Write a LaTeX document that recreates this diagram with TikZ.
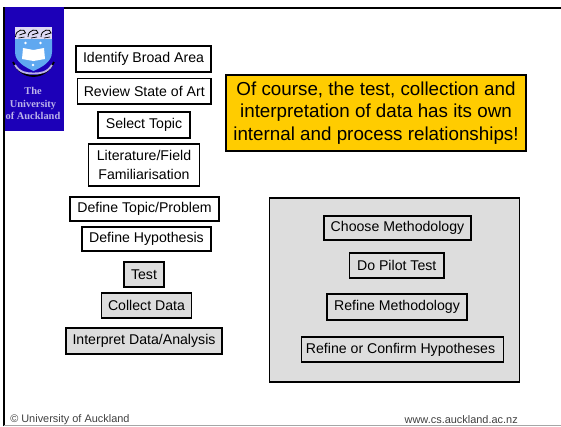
\documentclass[tikz,border=0pt]{standalone}
\usepackage{fontspec}
\setmainfont{Liberation Sans}
\newfontfamily\crestfont{Liberation Serif}
\usepackage{xcolor}
\usepackage{tikz}
\usetikzlibrary{calc}
\definecolor{uniblue}{HTML}{1C00B8}
\definecolor{notegold}{HTML}{FFCC00}
\definecolor{panelgrey}{HTML}{DDDDDD}
\definecolor{shieldblue}{HTML}{5FA8F0}

\tikzset{
	x=0.75pt, y=-0.75pt,
	stepbox/.style={draw, line width=0.8pt, inner sep=0pt, align=center, font=\fontsize{10.6}{14}\selectfont},
	footer/.style={inner sep=0pt, text=black!75, font=\fontsize{8.2}{9}\selectfont},
}

\begin{document}
\begin{tikzpicture}
\useasboundingbox (0,0) rectangle (561,426);

% Frame
\coordinate (topleft) at (4,8);
\coordinate (topright) at (561,8);
\coordinate (bottomleft) at (4,426);
\coordinate (baseleft) at (4,425.5);
\coordinate (baseright) at (561,425.5);
\draw[line width=1.5pt] (bottomleft) -- (topleft) -- (topright);
\draw[black!35, line width=0.6pt] (baseleft) -- (baseright);

% Logo
\fill[uniblue] (5,7) rectangle (64,131);
\fill[white!85!uniblue] (15,27) rectangle (52,45);
\foreach \hx in {20.5,33,46}{
	\draw[black, line width=0.6pt] (\hx-5,37) .. controls (\hx-5,29) and (\hx+5,28) .. (\hx+5,33) .. controls (\hx+3,35) and (\hx,33) .. (\hx-1,35);
	\draw[black, line width=0.5pt] (\hx-2,38) -- (\hx+4,37);
}
\fill[shieldblue] (15,39) -- (52,39) -- (52,52) .. controls (52,62) and (42,67) .. (33.5,71) .. controls (25,67) and (15,62) .. (15,52) -- cycle;
\fill[white] (23,48) -- (33.5,50) -- (44,48) -- (45,59) -- (33.5,61) -- (22,59) -- cycle;
\foreach \sx/\sy in {25.5/43,40.5/43,33/65}{
	\fill[white] (\sx,\sy) circle (1.4);
}
\draw[black, line width=1.3pt] (13,62) .. controls (18,72) and (26,76) .. (33.5,76) .. controls (41,76) and (49,72) .. (54,62);
\draw[white!70!uniblue, line width=1.4pt] (15,65) .. controls (20,73) and (27,73.5) .. (33.5,73.5) .. controls (40,73.5) and (47,73) .. (52,65);
\node[inner sep=0pt, text=white!70!uniblue, align=center, font=\crestfont\bfseries\fontsize{7.8}{9.4}\selectfont] (crest) at (33,103.5) {The\\University\\of Auckland};

% Left column
\foreach \name/\xa/\ya/\xb/\yb/\fillc/\txt in {
	broad/76/46/211/72/white/{Identify Broad Area},
	review/77.5/78.5/211/104/white/{Review State of Art},
	topic/98/112/190/138/white/{Select Topic},
	liter/88.5/144/199.5/186/white/{Literature/Field\\Familiarisation},
	problem/70/197/219/221/white/{Define Topic/Problem},
	hypo/82/227/211/251/white/{Define Hypothesis},
	panel/269.5/198/519.5/382/panelgrey/{},
	test/124/262/164/287/panelgrey/{Test},
	collect/101.5/293/191.5/318/panelgrey/{Collect Data},
	analysis/66/328/222/354/panelgrey/{Interpret Data/Analysis},
	method/324/216/471/240/panelgrey/{Choose Methodology},
	pilot/349.5/253/444/278/panelgrey/{Do Pilot Test},
	refine/327/294/467/320/panelgrey/{Refine Methodology},
	confirm/301.5/337/503.5/362/panelgrey/{Refine or Confirm Hypotheses}
}{
	\node[stepbox, fill=\fillc, minimum width={(\xb-\xa)*0.75pt}, minimum height={(\yb-\ya)*0.75pt}] (\name) at ({(\xa+\xb)/2},{(\ya+\yb)/2}) {\txt};
}

% Note
\node[draw, line width=0.8pt, fill=notegold, inner sep=0pt, minimum width=225pt, minimum height=57pt, align=center, font=\fontsize{14.1}{17}\selectfont] (note) at (376,113) {Of course, the test, collection and\\interpretation of data has its own\\internal and process relationships!};

% Footer
\node[footer, anchor=west] (copyright) at (10,420) {\textcopyright\ University of Auckland};
\node[footer, anchor=east] (website) at (518,420) {www.cs.auckland.ac.nz};
\end{tikzpicture}
\end{document}
